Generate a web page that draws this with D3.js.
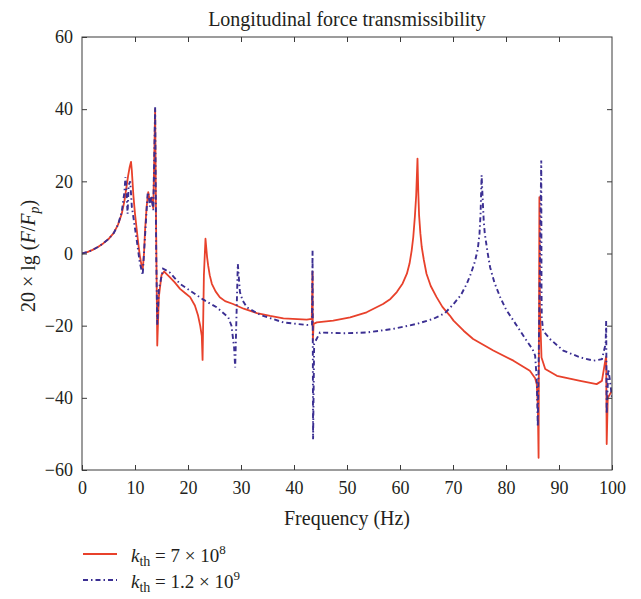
<!DOCTYPE html>
<html>
<head>
<meta charset="utf-8">
<script src="https://cdn.jsdelivr.net/npm/d3@7/dist/d3.min.js"></script>
<style>
  html, body { margin: 0; padding: 0; background: #fff; }
  svg { display: block; }
  text { font-family: "Liberation Serif", "Times New Roman", serif; fill: #231f20; }
</style>
</head>
<body>
<svg id="chart" width="641" height="599"></svg>
<script>
// ---- Data: [frequency Hz, 20·lg(F/Fp) dB] ----
const xTicks = [0, 10, 20, 30, 40, 50, 60, 70, 80, 90, 100];
const yTicks = [-60, -40, -20, 0, 20, 40, 60];

const redSeries = [
  [0,0],[1,0.4],[2,1.0],[3,1.8],[4,2.8],[5,4.0],[6,5.7],[6.8,8.0],[7.5,11.0],[8.0,14.5],
  [8.4,18.5],[8.7,21.5],[9.0,24],[9.25,25.4],[9.4,23],[9.7,16],[10.0,11],[10.3,7],[10.6,3],[10.9,-0.5],
  [11.2,-3],[11.45,-4.5],[11.7,0],[11.9,6.5],[12.2,13],[12.5,17],[12.8,14.5],[13.1,15.5],[13.45,12.5],[13.8,40],
  [14.0,5],[14.2,-25.5],[14.5,-12],[15.0,-6],[15.5,-5],[16.6,-6.6],[17.5,-8],[18.5,-9.8],[19.5,-11],[20.4,-12.1],
  [21.3,-14.4],[21.9,-17.2],[22.3,-20],[22.6,-22.8],[22.75,-29.5],[23.0,-6],[23.3,4.1],[23.6,-1],[23.8,-3.3],[24.1,-6],
  [24.5,-8.4],[25.2,-10.5],[26.0,-12.1],[27,-13.2],[28.5,-14.0],[30.5,-15.3],[33.0,-16.5],[35.5,-17.3],[38.0,-18.0],[42.4,-18.3],
  [43.35,-18.1],[43.5,-5],[43.56,-24],[43.7,-19.5],[44.3,-19.1],[47.4,-18.6],[50.6,-17.7],[53.7,-16.3],[56.8,-14.0],[58.2,-12.6],
  [59.4,-10.7],[60.5,-8.3],[61.3,-5.6],[61.8,-2.8],[62.2,0.8],[62.5,4.5],[62.8,10.1],[63.05,16],[63.3,26.3],[63.45,17],
  [63.6,10.6],[63.85,5.5],[64.1,1.8],[64.5,-1.8],[65.0,-5.6],[65.8,-9],[66.9,-12.1],[68,-14.8],[69.4,-17.2],[70.1,-18.6],
  [72,-21.4],[73.8,-23.7],[77.6,-26.9],[81.4,-29.7],[84.5,-32.5],[85.5,-34.6],[85.8,-36.2],[86.0,-42],[86.15,-56.6],[86.3,15.6],
  [86.4,-15],[86.7,-28.8],[87.4,-32.0],[89.6,-33.9],[94.0,-35.3],[97.1,-36.2],[98.1,-35.3],[98.7,-30],[98.9,-28.5],[99.0,-52.8],
  [99.2,-40],[100,-38]
];

const blueSeries = [
  [0,0],[1,0.4],[2,1.0],[3,1.8],[4,2.8],[5,4.0],[6,5.7],[6.8,8.0],[7.5,11.5],[8.0,17],
  [8.2,21.2],[8.4,17],[8.6,11],[8.8,19],[9.1,20],[9.4,13],[9.7,10],[10.3,4],[10.9,-2.5],[11.45,-6],
  [11.9,5],[12.4,17],[12.6,16],[12.8,13],[13.1,16],[13.45,12],[13.8,40.6],[14.0,0],[14.2,-20],[14.5,-10],
  [15.3,-4.2],[16.6,-5.3],[17.5,-6.8],[18.5,-8.4],[20.4,-10.3],[22.9,-12.8],[25.4,-14.9],[27.6,-17.7],[28.2,-20],[28.7,-26],
  [28.9,-31.6],[29.4,-2.9],[29.8,-10.7],[30.3,-13],[31.1,-14.9],[33.6,-17.0],[38.0,-19.1],[42.4,-19.8],[43.4,-19.7],[43.5,0.8],
  [43.6,-51.5],[43.8,-25],[44.9,-21.9],[49.3,-22.1],[53.7,-21.9],[58.7,-20.9],[63.2,-19.5],[66.3,-18.1],[68.5,-16.5],[70.1,-14.0],
  [71.5,-11.5],[72.6,-8.4],[73.4,-5.5],[74.2,-1.9],[74.7,1.5],[75.0,5.5],[75.2,11],[75.4,21.7],[75.6,15],[75.8,9],
  [76.0,5.5],[76.5,0.5],[77.0,-3.8],[77.8,-8],[78.9,-12.1],[80,-15.5],[81.4,-18.6],[83.9,-24.2],[85.0,-26.5],[85.5,-28.3],
  [85.8,-35],[86.0,-48],[86.65,25.8],[86.7,-10],[86.75,-17.7],[87.0,-21.4],[88.3,-23.7],[90.8,-26.9],[94.0,-28.8],[96.5,-29.7],
  [98.1,-29.3],[98.8,-25],[98.9,-18.6],[99.0,-44.5],[99.3,-32],[99.6,-35],[100,-40]
];

const seriesNames = ["7 × 10", "1.2 × 10"];
const seriesExp = ["8", "9"];

// ---- Layout ----
const svg = d3.select("#chart");
const mLeft = 82, mRight = 612, mTop = 37, mBottom = 470;
const x = d3.scaleLinear().domain([0, 100]).range([mLeft, mRight]);
const y = d3.scaleLinear().domain([-60, 60]).range([mBottom, mTop]);
const red = "#e8412b", blue = "#3b2f92", axisCol = "#3a3a3a";
const blueDash = "5,3,1.5,3";

svg.append("defs").append("clipPath").attr("id", "clip")
  .append("rect").attr("x", mLeft).attr("y", mTop).attr("width", mRight - mLeft).attr("height", mBottom - mTop);

// Title
svg.append("text").attr("x", (mLeft + mRight) / 2).attr("y", 26)
  .attr("text-anchor", "middle").attr("font-size", 20)
  .text("Longitudinal force transmissibility");

// Lines
const line = d3.line().x(d => x(d[0])).y(d => y(d[1]));
const g = svg.append("g").attr("clip-path", "url(#clip)");
g.append("path").datum(redSeries)
  .attr("d", line).attr("fill", "none").attr("stroke", red)
  .attr("stroke-width", 1.8).attr("stroke-linejoin", "round");
g.append("path").datum(blueSeries)
  .attr("d", line).attr("fill", "none").attr("stroke", blue)
  .attr("stroke-width", 1.9).attr("stroke-dasharray", blueDash);

// Axes
const fontSize = 18;
const xAxis = svg.append("g").attr("transform", `translate(0,${mBottom})`)
  .call(d3.axisBottom(x).tickValues(xTicks).tickSize(-5).tickPadding(11));
const xTopAxis = svg.append("g").attr("transform", `translate(0,${mTop})`)
  .call(d3.axisTop(x).tickValues(xTicks.slice(1, -1)).tickSize(-5).tickFormat(""));
const yAxis = svg.append("g").attr("transform", `translate(${mLeft},0)`)
  .call(d3.axisLeft(y).tickValues(yTicks).tickSize(-5).tickPadding(9));
const yRightAxis = svg.append("g").attr("transform", `translate(${mRight},0)`)
  .call(d3.axisRight(y).tickValues(yTicks.slice(1, -1)).tickSize(-5).tickFormat(""));
[xAxis, xTopAxis, yAxis, yRightAxis].forEach(a => {
  a.select(".domain").remove();
  a.selectAll("line").attr("stroke", axisCol).attr("stroke-width", 1);
  a.selectAll("text").attr("font-size", fontSize)
    .attr("font-family", "Liberation Serif, serif").attr("fill", "#231f20");
});
svg.append("rect").attr("x", mLeft).attr("y", mTop).attr("width", mRight - mLeft).attr("height", mBottom - mTop)
  .attr("fill", "none").attr("stroke", axisCol).attr("stroke-width", 1);

// Axis labels
svg.append("text").attr("x", (mLeft + mRight) / 2).attr("y", 525)
  .attr("text-anchor", "middle").attr("font-size", 20).text("Frequency (Hz)");

const yl = svg.append("text").attr("transform", "translate(35,256) rotate(-90)")
  .attr("text-anchor", "middle").attr("font-size", 20);
yl.append("tspan").text("20 × lg (");
yl.append("tspan").attr("font-style", "italic").text("F");
yl.append("tspan").text("/");
yl.append("tspan").attr("font-style", "italic").text("F");
yl.append("tspan").attr("font-style", "italic").attr("font-size", 14).attr("dy", 4).text("p");
yl.append("tspan").attr("dy", -4).text(")");

// Legend
const legY = [554, 580];
const legColors = [red, blue];
const legDash = [null, blueDash];
legY.forEach((ly, i) => {
  svg.append("line").attr("x1", 83).attr("x2", 117).attr("y1", ly).attr("y2", ly)
    .attr("stroke", legColors[i]).attr("stroke-width", i ? 1.9 : 1.8)
    .attr("stroke-dasharray", legDash[i]);
  const t = svg.append("text").attr("x", 131).attr("y", ly + 8).attr("font-size", 19);
  t.append("tspan").attr("font-style", "italic").text("k");
  t.append("tspan").attr("font-size", 14).attr("dy", 4).text("th");
  t.append("tspan").attr("dy", -4).text(" = " + seriesNames[i]);
  t.append("tspan").attr("font-size", 13).attr("dy", -8).text(seriesExp[i]);
});
</script>
</body>
</html>
